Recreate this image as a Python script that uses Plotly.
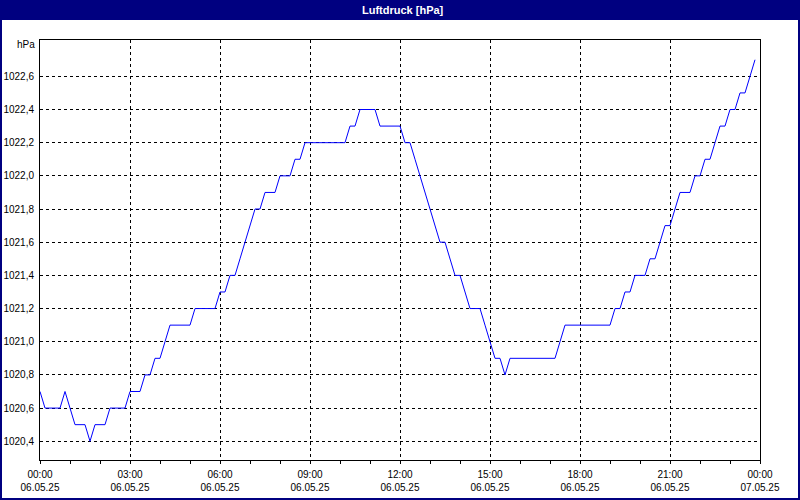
import pandas as pd
import plotly.graph_objects as go

# ---- data (10-minute readings, 06.05.25 00:00 .. 23:50) ----
start_time = "2025-05-06 00:00"
interval = "10min"
pressure_hpa = [
    1020.7, 1020.6, 1020.6, 1020.6, 1020.6, 1020.7, 1020.6, 1020.5, 1020.5, 1020.5, 1020.4, 1020.5,
    1020.5, 1020.5, 1020.6, 1020.6, 1020.6, 1020.6, 1020.7, 1020.7, 1020.7, 1020.8, 1020.8, 1020.9,
    1020.9, 1021.0, 1021.1, 1021.1, 1021.1, 1021.1, 1021.1, 1021.2, 1021.2, 1021.2, 1021.2, 1021.2,
    1021.3, 1021.3, 1021.4, 1021.4, 1021.5, 1021.6, 1021.7, 1021.8, 1021.8, 1021.9, 1021.9, 1021.9,
    1022.0, 1022.0, 1022.0, 1022.1, 1022.1, 1022.2, 1022.2, 1022.2, 1022.2, 1022.2, 1022.2, 1022.2,
    1022.2, 1022.2, 1022.3, 1022.3, 1022.4, 1022.4, 1022.4, 1022.4, 1022.3, 1022.3, 1022.3, 1022.3,
    1022.3, 1022.2, 1022.2, 1022.1, 1022.0, 1021.9, 1021.8, 1021.7, 1021.6, 1021.6, 1021.5, 1021.4,
    1021.4, 1021.3, 1021.2, 1021.2, 1021.2, 1021.1, 1021.0, 1020.9, 1020.9, 1020.8, 1020.9, 1020.9,
    1020.9, 1020.9, 1020.9, 1020.9, 1020.9, 1020.9, 1020.9, 1020.9, 1021.0, 1021.1, 1021.1, 1021.1,
    1021.1, 1021.1, 1021.1, 1021.1, 1021.1, 1021.1, 1021.1, 1021.2, 1021.2, 1021.3, 1021.3, 1021.4,
    1021.4, 1021.4, 1021.5, 1021.5, 1021.6, 1021.7, 1021.7, 1021.8, 1021.9, 1021.9, 1021.9, 1022.0,
    1022.0, 1022.1, 1022.1, 1022.2, 1022.3, 1022.3, 1022.4, 1022.4, 1022.5, 1022.5, 1022.6, 1022.7,
]

x_tickvals = [
    "2025-05-06 00:00", "2025-05-06 03:00", "2025-05-06 06:00", "2025-05-06 09:00",
    "2025-05-06 12:00", "2025-05-06 15:00", "2025-05-06 18:00", "2025-05-06 21:00",
    "2025-05-07 00:00",
]
x_ticktext = [
    "00:00<br>06.05.25", "03:00<br>06.05.25", "06:00<br>06.05.25", "09:00<br>06.05.25",
    "12:00<br>06.05.25", "15:00<br>06.05.25", "18:00<br>06.05.25", "21:00<br>06.05.25",
    "00:00<br>07.05.25",
]
y_tickvals = [1020.4, 1020.6, 1020.8, 1021.0, 1021.2, 1021.4, 1021.6, 1021.8, 1022.0, 1022.2, 1022.4, 1022.6]
y_ticktext = ["1020,4", "1020,6", "1020,8", "1021,0", "1021,2", "1021,4", "1021,6", "1021,8",
              "1022,0", "1022,2", "1022,4", "1022,6"]
title_text = "Luftdruck [hPa]"
unit_text = "hPa"

times = pd.date_range(start_time, periods=len(pressure_hpa), freq=interval)

NAVY = "#000080"
FONT = "Liberation Sans, Arial, sans-serif"

fig = go.Figure()
fig.add_trace(go.Scatter(
    x=times, y=pressure_hpa, mode="lines",
    line=dict(color="#0000ff", width=1), showlegend=False,
))

W, H = 800, 500
L, R, T, B = 40, 40, 40, 40
pw, ph = W - L - R, H - T - B

def px(xp):
    return (xp - L) / pw

def py(yp):
    return (H - B - yp) / ph

fig.update_layout(
    width=W, height=H,
    margin=dict(l=L, r=R, t=T, b=B, pad=0, autoexpand=False),
    paper_bgcolor="white", plot_bgcolor="white",
    font=dict(family=FONT, size=10, color="black"),
    showlegend=False,
    xaxis=dict(
        type="date", automargin=False,
        range=["2025-05-06 00:00", "2025-05-07 00:00"],
        tickmode="array", tickvals=x_tickvals, ticktext=x_ticktext,
        ticks="outside", ticklen=3, tickcolor="black", tickwidth=1,
        ticklabelstandoff=2,
        minor=dict(dtick=3600000, tick0="2025-05-06 00:00", ticks="outside",
                   ticklen=3, tickcolor="black", showgrid=False),
        showline=True, linecolor="black", linewidth=1, mirror=True,
        showgrid=True, gridcolor="black", gridwidth=1, griddash="3px,3px",
        zeroline=False, fixedrange=True,
        tickfont=dict(family=FONT, size=10, color="black"),
    ),
    yaxis=dict(
        automargin=False,
        range=[1020.287, 1022.819],
        tickmode="array", tickvals=y_tickvals, ticktext=y_ticktext,
        ticks="", ticklabelstandoff=3,
        showline=True, linecolor="black", linewidth=1, mirror=True,
        showgrid=True, gridcolor="black", gridwidth=1, griddash="3px,3px",
        zeroline=False, fixedrange=True,
        tickfont=dict(family=FONT, size=10, color="black"),
    ),
    shapes=[
        dict(type="rect", xref="paper", yref="paper",
             x0=px(0), x1=px(800), y0=py(20), y1=py(0),
             fillcolor=NAVY, line=dict(width=0), layer="above"),
        dict(type="rect", xref="paper", yref="paper",
             x0=px(1), x1=px(799), y0=py(499), y1=py(1),
             fillcolor="rgba(0,0,0,0)", line=dict(color=NAVY, width=2), layer="above"),
    ],
    annotations=[
        dict(text="<b>" + title_text + "</b>", xref="paper", yref="paper",
             x=px(403), y=py(10), xanchor="center", yanchor="middle",
             showarrow=False, font=dict(family=FONT, size=11, color="white")),
        dict(text=unit_text, xref="paper", yref="paper",
             x=px(37), y=py(45), xanchor="right", yanchor="middle",
             showarrow=False, font=dict(family=FONT, size=10, color="black")),
    ],
)

fig.write_html(
    "out.html",
    config={"displayModeBar": False},
    post_script="document.body.style.margin='0';document.body.style.overflow='hidden';",
)
